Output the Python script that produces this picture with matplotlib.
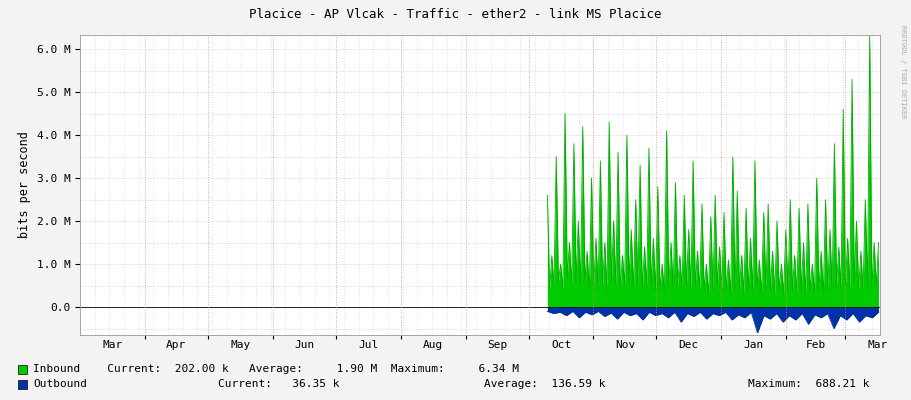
import matplotlib
matplotlib.use("Agg")
import matplotlib.pyplot as plt
import numpy as np

month_labels = ["Mar","Apr","May","Jun","Jul","Aug","Sep","Oct","Nov","Dec","Jan","Feb","Mar"]
month_starts = [0,31,61,92,122,153,184,214,245,275,306,337,365]  # days from Mar 1
inbound_M = [2.6,0.4,1.2,0.5,3.5,0.6,1.0,0.4,4.5,0.7,1.5,0.5,3.8,0.6,2.0,0.5,4.2,0.6,1.3,0.4,3.0,0.5,1.6,0.4,
             3.4,0.5,1.5,0.4,4.3,0.6,2.0,0.5,3.6,0.4,1.2,0.5,4.0,0.6,1.8,0.4,2.5,0.5,3.3,0.4,1.4,0.5,3.7,0.5,1.6,0.4,2.8,0.4,1.0,0.3,
             4.1,0.5,1.5,0.4,2.9,0.5,1.2,0.4,2.6,0.5,1.8,0.4,3.4,0.5,1.3,0.4,2.4,0.4,1.0,0.3,2.1,0.4,2.6,0.5,1.4,0.4,2.2,0.4,1.1,0.3,3.5,0.4,
             2.7,0.4,1.2,0.3,2.3,0.4,1.6,0.4,3.4,0.5,1.1,0.3,2.2,0.4,2.4,0.4,1.3,0.3,2.0,0.4,1.0,0.3,1.8,0.4,2.5,0.4,1.2,0.3,2.3,0.4,
             1.5,0.3,2.4,0.4,1.0,0.3,3.0,0.4,1.3,0.3,2.5,0.4,1.8,0.4,3.8,0.5,1.4,0.4,4.6,0.5,1.6,0.4,5.3,0.6,2.0,0.4,1.3,0.4,
             2.5,0.5,6.3,0.4,1.5,0.5,1.5]
outbound_M = [-0.10,-0.15,-0.12,-0.20,-0.10,-0.25,-0.12,-0.18,-0.10,-0.22,-0.14,-0.28,-0.12,-0.20,-0.15,-0.30,-0.12,-0.20,
              -0.15,-0.25,-0.12,-0.35,-0.15,-0.22,-0.12,-0.28,-0.15,-0.20,-0.12,-0.30,-0.18,-0.25,-0.12,-0.60,-0.20,-0.28,
              -0.15,-0.35,-0.20,-0.30,-0.15,-0.40,-0.18,-0.25,-0.15,-0.50,-0.20,-0.30,-0.15,-0.35,-0.20,-0.25,-0.12]
start_day, end_day = 223, 381

fig = plt.figure(figsize=(9.11,4.0), dpi=100, facecolor="#F3F3F3")
ax = fig.add_axes([80/911, 65/400, 800/911, 300/400], facecolor="white")
xi = np.linspace(start_day, end_day, len(inbound_M))
xo = np.linspace(start_day, end_day, len(outbound_M))
ax.fill_between(xi, 0, inbound_M, color="#00CC00", lw=0)
ax.plot(xi, inbound_M, color="#00AA00", lw=0.6)
ax.fill_between(xo, 0, outbound_M, color="#0033AA", lw=0)
ax.plot(xo, outbound_M, color="#002A8F", lw=0.6)
ax.axhline(0, color="black", lw=0.6)
ax.set_xlim(0, 381.7)
ax.set_ylim(-0.65, 6.33)
ax.set_yticks([0,1,2,3,4,5,6])
ax.set_yticklabels(["0.0","1.0 M","2.0 M","3.0 M","4.0 M","5.0 M","6.0 M"], family="DejaVu Sans Mono", fontsize=8)
for y in np.arange(-0.5, 6.3, 0.5):
    ax.axhline(y, color="#bbbbbb", lw=0.5, ls=(0,(1,2)), zorder=0)
for d in range(0, 382, 7):
    ax.axvline(d, color="#cccccc", lw=0.5, ls=(0,(1,2)), zorder=0)
for d in month_starts[1:]:
    ax.axvline(d, color="#ff7777", lw=0.6, ls=(0,(1,2)), zorder=3)
ax.set_xticks(month_starts[1:])
ax.set_xticklabels([])
ax.set_xticks([(a+b)/2 for a,b in zip(month_starts, month_starts[1:]+[396])], minor=True)
ax.set_xticklabels(month_labels, minor=True, family="DejaVu Sans Mono", fontsize=8)
ax.tick_params(axis="x", which="minor", length=0)
ax.tick_params(axis="x", which="major", length=3)
for s in ax.spines.values():
    s.set_color("#999999"); s.set_linewidth(0.6)
ax.set_ylabel("bits per second", family="DejaVu Sans Mono", fontsize=8.5)
fig.text(0.5, 1-14/400, "Placice - AP Vlcak - Traffic - ether2 - link MS Placice", ha="center", va="center", family="DejaVu Sans Mono", fontsize=9)
fig.text(903/911, 0.82, "RRDTOOL / TOBI OETIKER", rotation=270, ha="center", va="center", fontsize=5, color="#aaaaaa", family="DejaVu Sans Mono")
mono = dict(family="DejaVu Sans Mono", fontsize=8, va="center")
fig.patches.append(plt.Rectangle((18/911, 1-374/400), 9/911, 9/400, transform=fig.transFigure, facecolor="#00CC00", edgecolor="black", lw=0.5))
fig.patches.append(plt.Rectangle((18/911, 1-389/400), 9/911, 9/400, transform=fig.transFigure, facecolor="#0033AA", edgecolor="black", lw=0.5))
fig.text(33/911, 1-369/400, "Inbound    Current:  202.00 k   Average:     1.90 M  Maximum:     6.34 M", **mono)
fig.text(33/911, 1-384/400, "Outbound", **mono)
fig.text(218/911, 1-384/400, "Current:   36.35 k", **mono)
fig.text(484/911, 1-384/400, "Average:  136.59 k", **mono)
fig.text(748/911, 1-384/400, "Maximum:  688.21 k", **mono)
fig.savefig("out.png", dpi=100, facecolor=fig.get_facecolor())
